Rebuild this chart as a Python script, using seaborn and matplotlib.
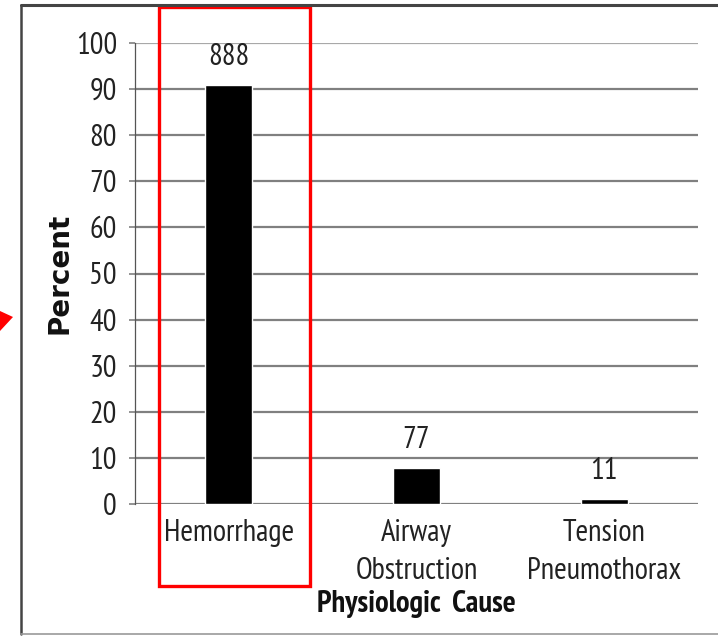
import matplotlib
matplotlib.use("Agg")
import matplotlib.pyplot as plt
from matplotlib.patches import Rectangle, Polygon
from matplotlib.lines import Line2D
import pandas as pd
import seaborn as sns

# Physiologic causes of death and their case counts
causes = ["Hemorrhage", "Airway\nObstruction", "Tension\nPneumothorax"]
counts = [888, 77, 11]
y_ticks = [0, 10, 20, 30, 40, 50, 60, 70, 80, 90, 100]

percent = [c / sum(counts) * 100 for c in counts]
df = pd.DataFrame({"cause": causes, "percent": percent, "count": counts})

sns.set_theme(style="white")
plt.rcParams["font.family"] = ["PT Sans Narrow", "DejaVu Sans"]

W, H = 718, 636
fig = plt.figure(figsize=(W / 100, H / 100), dpi=100)
fig.patch.set_facecolor("white")

def fx(px):
    return px / W

def fy(py):
    return 1 - py / H

ax = fig.add_axes([fx(135), fy(504), fx(698) - fx(135), fy(43) - fy(504)])

sns.barplot(data=df, x="cause", y="percent", color="black", width=0.25,
            saturation=1, ax=ax, zorder=3)

ax.set_xlim(-0.5, 2.5)
ax.set_ylim(0, 100)
ax.set_yticks(y_ticks)
ax.set_yticklabels([str(t) for t in y_ticks])

# horizontal gridlines
for t in y_ticks:
    col = "#a8a8a8" if t == 100 else "#808080"
    ax.axhline(t, color=col, lw=1.6, zorder=1)

for s in ["top", "right", "bottom"]:
    ax.spines[s].set_visible(False)
ax.spines["left"].set_color("#555555")
ax.spines["left"].set_linewidth(0.9)

ax.tick_params(axis="y", which="major", left=True, length=4, width=1.2,
               color="#808080", pad=9, labelsize=22, labelcolor="#222222")
ax.tick_params(axis="x", which="major", bottom=False, length=0, pad=11,
               labelsize=22, labelcolor="#222222")
for lab in ax.get_xticklabels():
    lab.set_linespacing(1.42)

ax.set_ylabel("Percent", family="DejaVu Sans", fontweight="bold",
              fontsize=20, color="#111111")
ax.yaxis.set_label_coords((73 - 135) / 563, 0.5)
ax.set_xlabel("Physiologic  Cause", fontweight="bold", fontsize=22,
              color="#111111", labelpad=4)

# count labels above bars
for i, (p, c) in enumerate(zip(percent, counts)):
    ax.annotate(str(c), xy=(i, p), xytext=(0, 14), textcoords="offset points",
                ha="center", va="baseline", fontsize=22, color="#222222")

# frame around the figure
fig.add_artist(Line2D([fx(21), fx(21)], [fy(5), fy(634)], color="#444444",
                      lw=1.8, transform=fig.transFigure))
fig.add_artist(Line2D([fx(21), fx(718)], [fy(5), fy(5)], color="#444444",
                      lw=2.2, transform=fig.transFigure))
fig.add_artist(Line2D([fx(21), fx(718)], [fy(634), fy(634)], color="#9a9a9a",
                      lw=1.2, transform=fig.transFigure))

# highlight box around the leading cause
fig.add_artist(Rectangle((fx(159), fy(586)), fx(310) - fx(159), fy(7) - fy(586),
                         fill=False, edgecolor="#ff0000", lw=2.4,
                         transform=fig.transFigure))

# red pointer on the left margin
fig.add_artist(Polygon([[fx(0), fy(311)], [fx(13), fy(317)], [fx(0), fy(331)]],
                       closed=True, facecolor="#ff0000", edgecolor="none",
                       transform=fig.transFigure))

fig.savefig("out.png", dpi=100)
